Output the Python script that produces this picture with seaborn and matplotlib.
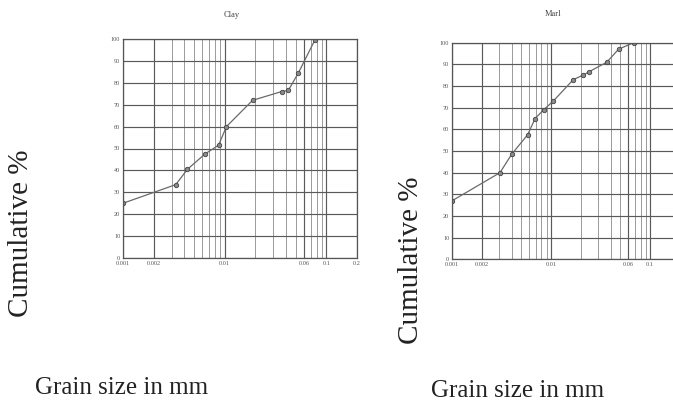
import matplotlib
matplotlib.use("Agg")
import matplotlib.pyplot as plt
import matplotlib.ticker as mticker
import seaborn as sns
import pandas as pd
import numpy as np

sns.set_theme(style="white")
plt.rcParams['font.family'] = ['Liberation Serif', 'DejaVu Serif']

# Data (grain size in mm, cumulative %)
clay_size = [0.001, 0.0033, 0.0043, 0.0064, 0.0087, 0.0104, 0.0188, 0.0363, 0.0422, 0.053, 0.077]
clay_cum = [25, 33.5, 40.5, 47.5, 51.5, 60, 72, 76, 76.5, 84.5, 99.5]

marl_size = [0.001, 0.00305, 0.0040, 0.0058, 0.0069, 0.0084, 0.0105, 0.0168, 0.021, 0.0240, 0.0365, 0.048, 0.068]
marl_cum = [27, 40, 48.5, 57.5, 65, 69, 73, 83, 85, 86.5, 91, 97, 100]

x_ticks = [0.001, 0.002, 0.01, 0.06, 0.1, 0.2]
x_tick_labels = ["0.001", "0.002", "0.01", "0.06", "0.1", "0.2"]
y_ticks = list(range(0, 101, 10))

titles = ["Clay", "Marl"]

fig = plt.figure(figsize=(6.73, 4.15), dpi=100)
ax1 = fig.add_axes([123/673, 1-258/415, 234/673, 219/415])
ax2 = fig.add_axes([452/673, 1-259.3/415, 228/673, 216.6/415])

for i, (ax, xs, ys) in enumerate([(ax1, clay_size, clay_cum), (ax2, marl_size, marl_cum)]):
    df = pd.DataFrame({"size": xs, "cum": ys})
    sns.lineplot(data=df, x="size", y="cum", ax=ax, sort=False, color="#6a6a6a",
                 lw=0.9, marker="o", markersize=3.2, markerfacecolor="#8a8a8a",
                 markeredgecolor="#444444", markeredgewidth=0.6)
    ax.set_xscale("log")
    ax.set_xlim(0.001, 0.2)
    ax.set_ylim(0, 100)
    ax.set_xticks(x_ticks)
    if i == 0:
        ax.set_xticklabels(x_tick_labels)
    else:
        # the last label falls outside the page in the reference
        ax.set_xticklabels(x_tick_labels[:-1] + [""])
    ax.xaxis.set_minor_locator(mticker.LogLocator(base=10, subs=np.arange(2, 10)))
    ax.xaxis.set_minor_formatter(mticker.NullFormatter())
    ax.set_yticks(y_ticks)
    ax.set_yticklabels([str(v) for v in y_ticks])
    ax.tick_params(axis="both", labelsize=4.5, colors="#555555", length=0, pad=2)
    ax.grid(True, which="major", axis="y", color="#5a5a5a", lw=0.85)
    ax.grid(True, which="major", axis="x", color="#5a5a5a", lw=0.85)
    ax.grid(True, which="minor", axis="x", color="#8a8a8a", lw=0.6)
    ax.set_axisbelow(True)
    for s in ax.spines.values():
        s.set_color("#555555")
        s.set_linewidth(0.9)
    ax.set_xlabel("")
    ax.set_ylabel("")

fig.text(232/673, 1-15/415, titles[0], fontsize=6, ha="center", va="center", color="#444444")
fig.text(553/673, 1-14/415, titles[1], fontsize=6, ha="center", va="center", color="#444444")

fig.text(21/673, 1-233/415, "Cumulative %", rotation=90, fontsize=21,
         ha="center", va="center", color="#222222")
fig.text(411/673, 1-260/415, "Cumulative %", rotation=90, fontsize=21,
         ha="center", va="center", color="#222222")
fig.text(122/673, 1-388/415, "Grain size in mm", fontsize=18,
         ha="center", va="center", color="#222222")
fig.text(518/673, 1-391/415, "Grain size in mm", fontsize=18,
         ha="center", va="center", color="#222222")

fig.savefig("out.png", dpi=100)
